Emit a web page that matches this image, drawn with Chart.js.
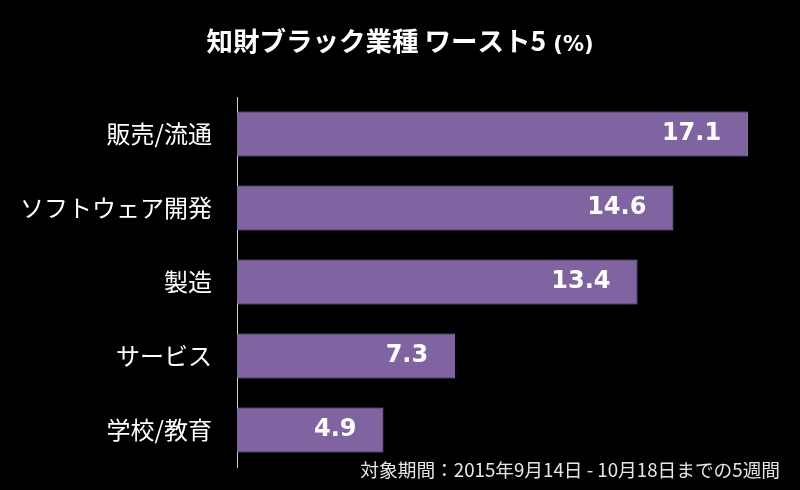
<!DOCTYPE html>
<html>
<head>
<meta charset="utf-8">
<script src="https://cdn.jsdelivr.net/npm/chart.js@4"></script>
<style>
  html, body { margin: 0; padding: 0; background: #000; }
  #wrap { width: 800px; height: 490px; }
</style>
</head>
<body>
<div id="wrap"><canvas id="myChart"></canvas></div>
<script>
// data
const industries = ["販売/流通", "ソフトウェア開発", "製造", "サービス", "学校/教育"];
const shares = [17.1, 14.6, 13.4, 7.3, 4.9];
const titleMain = "知財ブラック業種 ワースト5";
const titleUnit = " (%)";
const noteText = "対象期間：2015年9月14日 - 10月18日までの5週間";

const jpFont = "'Noto Sans CJK JP', 'Noto Sans', sans-serif";
const numFont = "'DejaVu Sans', sans-serif";

// title (two sizes), values inside bars, footnote
const extraText = {
  id: "extraText",
  afterDatasetsDraw(chart) {
    const ctx = chart.ctx;
    const meta = chart.getDatasetMeta(0);
    ctx.save();
    ctx.fillStyle = "#ffffff";

    // title
    ctx.textBaseline = "alphabetic";
    ctx.textAlign = "left";
    ctx.font = "bold 26.5px " + jpFont;
    let w1 = ctx.measureText(titleMain).width;
    ctx.font = "bold 21px " + numFont;
    let w2 = ctx.measureText(titleUnit).width;
    let tx = 400 - (w1 + w2) / 2;
    ctx.font = "bold 26.5px " + jpFont;
    ctx.fillText(titleMain, tx, 51);
    ctx.font = "bold 21px " + numFont;
    ctx.fillText(titleUnit, tx + w1, 51);

    // values
    ctx.font = "bold 24px " + numFont;
    ctx.textAlign = "right";
    ctx.textBaseline = "middle";
    meta.data.forEach(function (bar, i) {
      ctx.fillText(shares[i].toFixed(1), bar.x - 27, bar.y);
    });

    // footnote
    ctx.font = "18.7px " + jpFont;
    ctx.fillStyle = "#e6e6e6";
    ctx.fillText(noteText, 780, 470);
    ctx.restore();
  },
};

let mychart = document.getElementById("myChart").getContext("2d");
let barChart = new Chart(mychart, {
  type: "bar",
  data: {
    labels: industries,
    datasets: [
      {
        label: "%",
        data: shares,
        backgroundColor: "#8064a2",
        borderColor: "#9580b4",
        borderWidth: 1,
        borderSkipped: "left",
        barPercentage: 0.61,
        categoryPercentage: 1,
      },
    ],
  },
  options: {
    indexAxis: "y",
    responsive: true,
    maintainAspectRatio: false,
    animation: false,
    layout: { padding: { top: 97, right: 25, bottom: 23, left: 0 } },
    plugins: {
      legend: { display: false },
      tooltip: { enabled: false },
      title: { display: false },
    },
    scales: {
      x: {
        display: false,
        min: 0,
        max: 18,
      },
      y: {
        grid: { display: false, drawTicks: false },
        border: { display: true, color: "#d0d0d0", width: 1 },
        ticks: {
          color: "#ffffff",
          padding: 25,
          font: { family: jpFont, size: 24 },
        },
        afterFit: function (scale) {
          scale.width = 237;
          // keep the label padding from shrinking the plot height
          scale.paddingTop = 0;
          scale.paddingBottom = 0;
        },
      },
    },
  },
  plugins: [extraText],
});
</script>
</body>
</html>
